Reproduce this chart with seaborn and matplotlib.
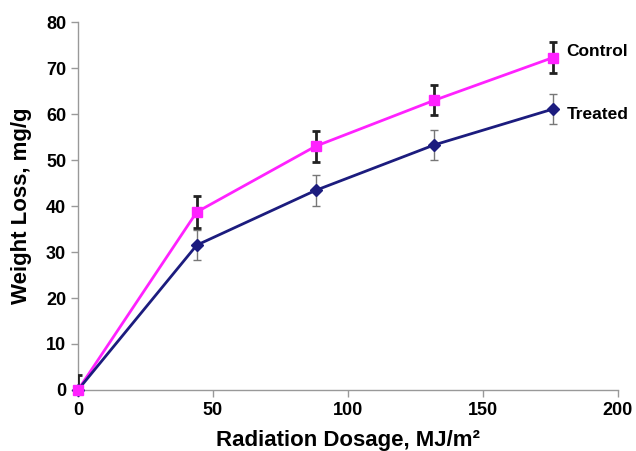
import matplotlib
matplotlib.use("Agg")
import matplotlib.pyplot as plt
import seaborn as sns
import pandas as pd

dose = [0, 44, 88, 132, 176]
control = [0, 38.7, 53.0, 63.0, 72.3]
control_err = [3.3, 3.4, 3.4, 3.3, 3.4]
treated = [0, 31.5, 43.4, 53.3, 61.1]
treated_err = [0, 3.2, 3.4, 3.2, 3.2]
x_ticks = [0, 50, 100, 150, 200]
y_ticks = [0, 10, 20, 30, 40, 50, 60, 70, 80]

sns.set_theme(style="white")
plt.rcParams['font.family'] = ['Liberation Sans', 'DejaVu Sans']
plt.rcParams['font.weight'] = 'bold'
plt.rcParams['text.color'] = 'black'
plt.rcParams['axes.labelcolor'] = 'black'
plt.rcParams['xtick.color'] = 'black'
plt.rcParams['ytick.color'] = 'black'

fig = plt.figure(figsize=(6.36, 4.51), dpi=100)
ax = fig.add_axes([0.1226, 0.1353, 0.849, 0.8157])

df = pd.DataFrame({
    "dose": dose * 2,
    "loss": control + treated,
    "group": ["Control"] * len(dose) + ["Treated"] * len(dose),
})
pal = {"Control": "#FF22FF", "Treated": "#1C1C7E"}
sns.lineplot(data=df, x="dose", y="loss", hue="group", palette=pal,
             linewidth=2, legend=False, ax=ax)

ax.errorbar(dose, treated, yerr=treated_err, fmt='none', ecolor='#777777',
            elinewidth=1, capsize=3, capthick=1, zorder=3)
ax.errorbar(dose, control, yerr=control_err, fmt='none', ecolor='#222222',
            elinewidth=2, capsize=3, capthick=2, zorder=3)
ax.plot(dose, treated, linestyle='none', marker='D', markersize=6,
        color=pal["Treated"], zorder=4, clip_on=False)
ax.plot(dose, control, linestyle='none', marker='s', markersize=7,
        color=pal["Control"], zorder=5, clip_on=False)

ax.text(181, control[-1] + 1.2, "Control", fontsize=12.5, fontweight='bold',
        va='center', ha='left', color='black')
ax.text(181, treated[-1] - 1.3, "Treated", fontsize=12.5, fontweight='bold',
        va='center', ha='left', color='black')

ax.set_xlim(0, 200)
ax.set_ylim(0, 80)
ax.set_xticks(x_ticks)
ax.set_yticks(y_ticks)
ax.tick_params(axis='both', which='both', labelsize=13, length=5,
               width=1, color='#999999', labelcolor='black', direction='out',
               bottom=True, left=True)
for lab in ax.get_xticklabels() + ax.get_yticklabels():
    lab.set_fontweight('bold')

for s in ['top', 'right']:
    ax.spines[s].set_visible(False)
for s in ['left', 'bottom']:
    ax.spines[s].set_color('#999999')
    ax.spines[s].set_linewidth(1)

ax.set_xlabel("Radiation Dosage, MJ/m²", fontsize=16, fontweight='bold',
              labelpad=8, color='black')
ax.set_ylabel("Weight Loss, mg/g", fontsize=16, fontweight='bold',
              labelpad=10, color='black')

fig.savefig("out.png", dpi=100)
